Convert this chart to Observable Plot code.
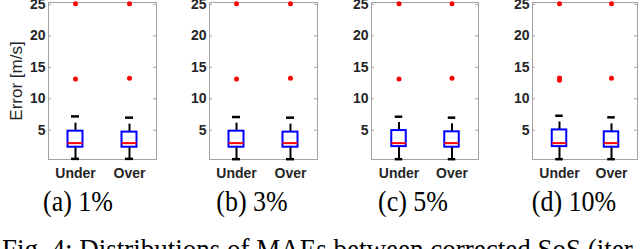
<!DOCTYPE html>
<html>
<head>
<meta charset="utf-8">
<script src="https://cdn.jsdelivr.net/npm/d3@7"></script>
<script src="https://cdn.jsdelivr.net/npm/@observablehq/plot@0.6"></script>
<style>
  html, body { margin: 0; padding: 0; background: white; }
  #root { position: relative; width: 640px; height: 249px; overflow: hidden; background: white; }
  .panel { position: absolute; top: 0; }
  .cap { position: absolute; transform: translateX(-50%) scaleY(1.1); font-family: "Liberation Serif", "Times New Roman", serif; font-size: 26px; line-height: 1; white-space: nowrap; color: #000; }
  .fig { position: absolute; left: 2px; font-family: "Liberation Serif", "Times New Roman", serif; font-size: 27px; line-height: 1; white-space: nowrap; color: #000; transform: scaleY(1.08); transform-origin: left top; }
</style>
</head>
<body>
<div id="root"></div>
<script>
// ---- data ----
const panelLabels = ["(a) 1%", "(b) 3%", "(c) 5%", "(d) 10%"];
const groups = ["Under", "Over"];
const whiskerLow  = [[0.45, 0.45], [0.4, 0.4], [0.4, 0.4], [0.4, 0.4]];
const q1          = [[2.3, 2.3], [2.3, 2.3], [2.4, 2.3], [2.4, 2.3]];
const medians     = [[2.95, 2.95], [2.95, 2.95], [2.95, 2.95], [2.95, 2.95]];
const q3          = [[4.85, 4.7], [4.85, 4.7], [4.95, 4.75], [5.05, 4.75]];
const whiskerHigh = [[7.2, 7.0], [7.1, 7.0], [7.15, 7.0], [7.3, 7.05]];
const outliers = [
  [[13.15, 25.1], [13.25, 25.1]],
  [[13.15, 25.1], [13.25, 25.1]],
  [[13.15, 25.1], [13.25, 25.1]],
  [[12.95, 13.3, 25.1], [13.25, 25.1]]
];
const yTicks = [5, 10, 15, 20, 25];
const yDomain = [0.35, 25.3];
const yLabel = "Error [m/s]";
const figCaption = "Fig. 4: Distributions of MAEs between corrected SoS (iter";

// ---- layout ----
const layout = [
  {left: 0,   ml: 48, mr: 4, cx: 78},
  {left: 160, ml: 49, mr: 3, cx: 252},
  {left: 320, ml: 51, mr: 2, cx: 413},
  {left: 480, ml: 52, mr: 3, cx: 574}
];
const root = document.getElementById("root");
const frameColor = "#a3a3a3";
const textColor = "#262626";
const sans = "Liberation Sans, Arial, sans-serif";

panelLabels.forEach((label, i) => {
  const L = layout[i];
  const W = 160 - L.ml - L.mr;
  const bw = W / groups.length;
  const boxes = groups.map((g, j) => ({
    group: g, lo: whiskerLow[i][j], q1: q1[i][j], med: medians[i][j], q3: q3[i][j], hi: whiskerHigh[i][j]
  }));
  const outs = groups.flatMap((g, j) => outliers[i][j].map(v => ({group: g, value: v})));
  const boxInset = (bw - 15) / 2;
  const capInset = (bw - 8) / 2;
  const marks = [
    Plot.frame({stroke: frameColor, strokeWidth: 1}),
    Plot.tickY(yTicks, {y: d => d, stroke: frameColor, insetRight: W - 3}),
    Plot.tickY(yTicks, {y: d => d, stroke: frameColor, insetLeft: W - 3}),
    Plot.axisY({ticks: yTicks, tickSize: 0, tickPadding: 3, fontSize: 14, fontWeight: "bold", fill: textColor, fontFamily: sans, label: null}),
    Plot.axisX({ticks: groups, tickSize: 0, tickPadding: 9, fontSize: 14, fontWeight: "bold", fill: textColor, fontFamily: sans, label: null}),
    Plot.ruleX(boxes, {x: "group", y1: "q3", y2: "hi", stroke: "black", strokeWidth: 2, strokeDasharray: "8,40"}),
    Plot.ruleX(boxes, {x: "group", y1: "q1", y2: "lo", stroke: "black", strokeWidth: 2}),
    Plot.tickY(boxes, {x: "group", y: "hi", stroke: "black", strokeWidth: 2.5, insetLeft: capInset, insetRight: capInset}),
    Plot.tickY(boxes, {x: "group", y: "lo", stroke: "black", strokeWidth: 2.5, insetLeft: capInset, insetRight: capInset}),
    Plot.barY(boxes, {x: "group", y1: "q1", y2: "q3", fill: "none", stroke: "#0000ff", strokeWidth: 2, insetLeft: boxInset, insetRight: boxInset}),
    Plot.tickY(boxes, {x: "group", y: "med", stroke: "#ff0000", strokeWidth: 2, insetLeft: boxInset, insetRight: boxInset}),
    Plot.dot(outs, {x: "group", y: "value", r: 2.5, fill: "#ff0000", stroke: "none"})
  ];
  if (i === 0) {
    marks.push(Plot.text([yLabel], {text: d => d, frameAnchor: "left", rotate: -90, dx: -32, textAnchor: "middle", fontSize: 17, fill: textColor, fontFamily: sans}));
  }
  const chart = Plot.plot({
    width: 160,
    height: 182,
    marginLeft: L.ml,
    marginRight: L.mr,
    marginTop: 2,
    marginBottom: 23,
    x: {type: "band", domain: groups, padding: 0, label: null},
    y: {domain: yDomain, label: null},
    style: {background: "transparent", overflow: "visible", color: textColor},
    marks
  });
  const div = document.createElement("div");
  div.className = "panel";
  div.style.left = L.left + "px";
  div.appendChild(chart);
  root.appendChild(div);

  const cap = document.createElement("div");
  cap.className = "cap";
  cap.style.left = L.cx + "px";
  cap.style.top = "189px";
  cap.textContent = label;
  root.appendChild(cap);
});

const fig = document.createElement("div");
fig.className = "fig";
fig.style.top = "235px";
fig.textContent = figCaption;
root.appendChild(fig);
</script>
</body>
</html>
